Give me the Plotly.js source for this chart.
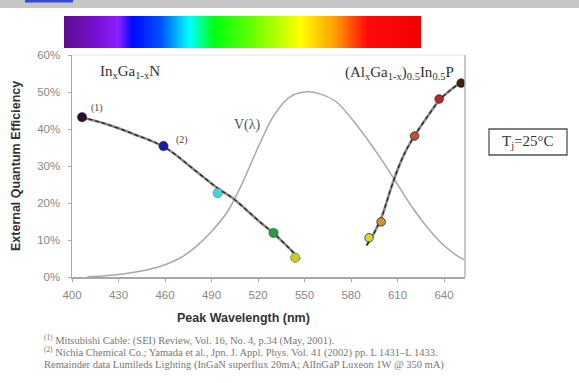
<!DOCTYPE html>
<html>
<head>
<meta charset="utf-8">
<script src="https://cdn.plot.ly/plotly-3.0.1.min.js"></script>
<style>html,body{margin:0;padding:0;background:#fff;}#chart{width:579px;height:383px;}</style>
</head>
<body>
<div id="chart"></div>
<script>
// ---- data ----
const xTicks = [400, 430, 460, 490, 520, 550, 580, 610, 640];
const yTicks = [0, 10, 20, 30, 40, 50, 60];

// V(lambda) eye-sensitivity curve (scaled, %)
const vLambda = [410, 420, 430, 440, 450, 460, 470, 480, 490, 500, 510, 520, 530, 540, 550, 560, 570, 580, 590, 600, 610, 620, 630, 640, 650, 653];
const vValue  = [0.1, 0.3, 0.7, 1.3, 2.1, 3.3, 5.2, 8.2, 12.3, 17.5, 25.5, 35.0, 43.5, 48.5, 50.0, 49.5, 47.5, 43.0, 37.5, 31.5, 25.0, 18.5, 13.0, 8.5, 5.3, 4.7];

// InGaN measured points
const inganLambda = [406.5, 459, 494, 530, 544];
const inganEQE    = [43.2, 35.4, 22.7, 11.9, 5.2];
const inganColors = ['#2a0f2a', '#1e1e9e', '#45d2dc', '#2e9a44', '#c8c828'];
// InGaN fit line
const inganFitLambda = [406, 420, 440, 460, 480, 494, 504, 520, 530, 540, 547];
const inganFitEQE    = [43.2, 41.6, 38.6, 35.0, 28.6, 24.0, 21.2, 15.3, 11.8, 7.8, 4.8];

// AlGaInP measured points
const alganLambda = [591.6, 599.4, 621, 636.8, 651];
const alganEQE    = [10.6, 14.9, 38.1, 48.1, 52.4];
const alganColors = ['#d8d830', '#c89a30', '#c05030', '#b82828', '#4a1a1a'];
// AlGaInP fit line
const alganFitLambda = [590, 595, 600, 605, 610, 615, 621, 630, 637, 644, 651];
const alganFitEQE    = [8.5, 12.0, 16.5, 23.0, 29.0, 33.8, 38.2, 43.8, 47.8, 50.5, 52.6];

// spectrum strip colour stops
const spectrumStops  = [0, 0.1, 0.15, 0.19, 0.27, 0.35, 0.42, 0.55, 0.66, 0.76, 0.85, 1];
const spectrumColors = ['#5e0c90', '#7a12d8', '#8a20ff', '#0008ff', '#0050ff', '#00ffff', '#00ff10', '#80ff00', '#ffff00', '#ff9a00', '#ff0a0a', '#f00000'];

const footnotes = [
  '<sup>(1)</sup> Mitsubishi Cable: (SEI) Review, Vol. 16, No. 4, p.34 (May, 2001).',
  '<sup>(2)</sup> Nichia Chemical Co.; Yamada et al., Jpn. J. Appl. Phys. Vol. 41 (2002) pp. L 1431–L 1433.',
  'Remainder data Lumileds Lighting (InGaN superflux 20mA; AlInGaP Luxeon 1W @ 350 mA)'
];

// ---- helpers for pixel -> paper ----
const W = 579, H = 383;
const px = x => x / W;
const py = y => 1 - y / H;

const spectrumScale = spectrumStops.map((s, i) => [s, spectrumColors[i]]);

const traces = [
  {x: spectrumStops, y: [0], z: [spectrumStops], type: 'heatmap', xaxis: 'x2', yaxis: 'y2',
   colorscale: spectrumScale, zmin: 0, zmax: 1, showscale: false, zsmooth: 'best', hoverinfo: 'skip'},
  {x: vLambda, y: vValue, mode: 'lines', line: {color: '#a8a8a8', width: 1.5, shape: 'spline'}, hoverinfo: 'skip'},
  {x: inganFitLambda, y: inganFitEQE, mode: 'lines', line: {color: '#8a8a8a', width: 2.6, shape: 'spline'}},
  {x: inganFitLambda, y: inganFitEQE, mode: 'lines', line: {color: '#222', width: 1.2, dash: '4px,3px', shape: 'spline'}},
  {x: alganFitLambda, y: alganFitEQE, mode: 'lines', line: {color: '#8a8a8a', width: 2.6, shape: 'spline'}},
  {x: alganFitLambda, y: alganFitEQE, mode: 'lines', line: {color: '#222', width: 1.2, dash: '4px,3px', shape: 'spline'}},
  {x: inganLambda, y: inganEQE, mode: 'markers',
   marker: {size: 9.5, color: inganColors, line: {color: 'rgba(40,40,40,0.6)', width: 0.6}}},
  {x: alganLambda, y: alganEQE, mode: 'markers',
   marker: {size: 8.5, color: alganColors, line: {color: 'rgba(40,40,40,0.8)', width: 1}}}
];

const tickFont = {family: 'Arial, Liberation Sans, sans-serif', size: 11.5, color: '#888'};
const serif = 'Times New Roman, Liberation Serif, serif';
const sans = 'Arial, Liberation Sans, sans-serif';

function ann(text, x, y, font, extra) {
  return Object.assign({text: text, xref: 'paper', yref: 'paper', x: px(x), y: py(y),
    xanchor: 'center', yanchor: 'middle', showarrow: false, font: font}, extra || {});
}

const layout = {
  width: W, height: H,
  margin: {l: 0, r: 0, t: 0, b: 0},
  paper_bgcolor: '#fff', plot_bgcolor: '#fff',
  showlegend: false,
  xaxis: {domain: [px(72), px(465)], range: [400, 653.5], tickvals: xTicks, ticktext: xTicks.map(String),
          showgrid: false, zeroline: false, showline: true, linecolor: '#a8a8a8', linewidth: 1.5,
          ticks: 'outside', ticklen: 3, tickcolor: '#a8a8a8', tickfont: tickFont, ticklabelstandoff: 4, anchor: 'y'},
  yaxis: {domain: [py(277), py(55)], range: [0, 60], tickvals: yTicks, ticktext: yTicks.map(v => v + '%'),
          showgrid: false, zeroline: false, showline: true, linecolor: '#a8a8a8', linewidth: 1.5,
          ticks: 'outside', ticklen: 3, tickcolor: '#a8a8a8', tickfont: tickFont, ticklabelstandoff: 5, anchor: 'x'},
  xaxis2: {domain: [px(64), px(421)], range: [0, 1], visible: false, fixedrange: true, anchor: 'y2'},
  yaxis2: {domain: [py(48), py(16)], range: [-0.5, 0.5], visible: false, fixedrange: true, anchor: 'x2'},
  shapes: [
    {type: 'rect', xref: 'paper', yref: 'paper', x0: 0, x1: 1, y0: py(8), y1: 1, fillcolor: '#c6c6c6', line: {width: 0}, layer: 'below'},
    {type: 'rect', xref: 'paper', yref: 'paper', x0: px(25), x1: px(73), y0: py(2.5), y1: 1, fillcolor: '#3a48d8', line: {width: 0}},
    {type: 'line', xref: 'paper', yref: 'paper', x0: px(465), x1: px(465), y0: py(277), y1: py(55), line: {color: '#b4b4b4', width: 1.5}},
    {type: 'line', xref: 'paper', yref: 'paper', x0: px(72), x1: px(465), y0: py(55), y1: py(55), line: {color: '#e4e4e4', width: 1}},
    {type: 'rect', xref: 'paper', yref: 'paper', x0: px(489), x1: px(567), y0: py(155), y1: py(129), line: {color: '#555', width: 1.3}, fillcolor: 'rgba(0,0,0,0)'}
  ],
  annotations: [
    ann('External Quantum Efficiency', 16, 166, {family: sans, size: 12.5, color: '#333', weight: 'bold'}, {textangle: -90}),
    ann('Peak Wavelength (nm)', 243, 318, {family: sans, size: 12.5, color: '#333', weight: 'bold'}),
    ann('In<sub>x</sub>Ga<sub>1-x</sub>N', 98, 72, {family: serif, size: 15, color: '#333'}, {xanchor: 'left'}),
    ann('(Al<sub>x</sub>Ga<sub>1-x</sub>)<sub>0.5</sub>In<sub>0.5</sub>P', 456, 73, {family: serif, size: 15, color: '#333'}, {xanchor: 'right'}),
    ann('V(λ)', 247, 125, {family: serif, size: 14, color: '#555'}),
    ann('(1)', 97, 108, {family: serif, size: 10, color: '#444'}),
    ann('(2)', 182, 140, {family: serif, size: 10, color: '#444'}),
    ann('T<sub>j</sub>=25°C', 528, 142, {family: serif, size: 15, color: '#333'}),
    ann(footnotes[0], 42, 340, {family: serif, size: 10.5, color: '#777'}, {xanchor: 'left'}),
    ann(footnotes[1], 42, 352, {family: serif, size: 10.5, color: '#777'}, {xanchor: 'left'}),
    ann(footnotes[2], 42, 365, {family: serif, size: 10.5, color: '#777'}, {xanchor: 'left'})
  ]
};

Plotly.newPlot('chart', traces, layout, {displayModeBar: false, staticPlot: true});
</script>
</body>
</html>
